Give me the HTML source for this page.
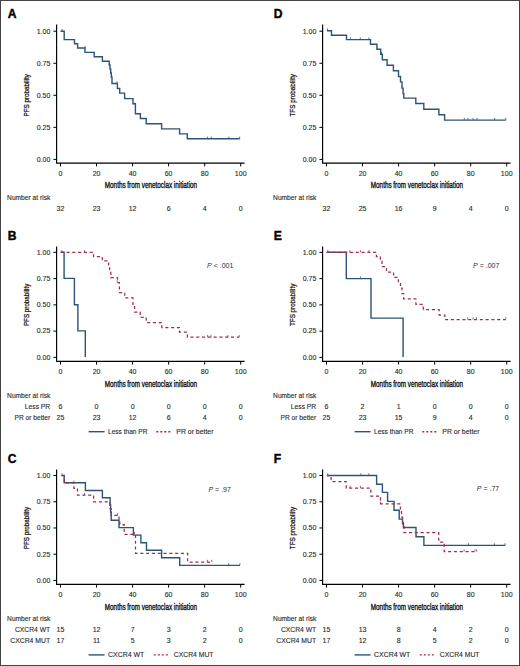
<!DOCTYPE html>
<html><head><meta charset="utf-8"><style>
html,body{margin:0;padding:0;background:#fff;width:520px;height:666px;overflow:hidden}
svg text{font-family:"Liberation Sans", sans-serif}
</style></head><body>
<svg width="520" height="666" viewBox="0 0 520 666" style="position:absolute;left:0;top:0">
<rect x="0.5" y="0.5" width="519" height="665" fill="#fff" stroke="#444" stroke-width="1"/>
<text x="7.70" y="17.80" font-size="12.1" text-anchor="start" font-weight="bold" fill="#000" stroke="#000" stroke-width="0.4">A</text>
<path d="M56.60,24.60 V163.10 H244.60" fill="none" stroke="#000" stroke-width="1.15"/>
<path d="M53.40,31.20 H56.60" stroke="#000" stroke-width="1"/>
<text x="50.30" y="33.50" font-size="7" text-anchor="end" font-weight="normal" fill="#2a2a2a" stroke="#2a2a2a" stroke-width="0.12" >1.00</text>
<path d="M53.40,63.25 H56.60" stroke="#000" stroke-width="1"/>
<text x="50.30" y="65.55" font-size="7" text-anchor="end" font-weight="normal" fill="#2a2a2a" stroke="#2a2a2a" stroke-width="0.12" >0.75</text>
<path d="M53.40,95.30 H56.60" stroke="#000" stroke-width="1"/>
<text x="50.30" y="97.60" font-size="7" text-anchor="end" font-weight="normal" fill="#2a2a2a" stroke="#2a2a2a" stroke-width="0.12" >0.50</text>
<path d="M53.40,127.35 H56.60" stroke="#000" stroke-width="1"/>
<text x="50.30" y="129.65" font-size="7" text-anchor="end" font-weight="normal" fill="#2a2a2a" stroke="#2a2a2a" stroke-width="0.12" >0.25</text>
<path d="M53.40,159.40 H56.60" stroke="#000" stroke-width="1"/>
<text x="50.30" y="161.70" font-size="7" text-anchor="end" font-weight="normal" fill="#2a2a2a" stroke="#2a2a2a" stroke-width="0.12" >0.00</text>
<path d="M60.50,163.10 V166.40" stroke="#000" stroke-width="1"/>
<text x="60.50" y="175.90" font-size="7" text-anchor="middle" font-weight="normal" fill="#2a2a2a" stroke="#2a2a2a" stroke-width="0.12" >0</text>
<path d="M96.54,163.10 V166.40" stroke="#000" stroke-width="1"/>
<text x="96.54" y="175.90" font-size="7" text-anchor="middle" font-weight="normal" fill="#2a2a2a" stroke="#2a2a2a" stroke-width="0.12" >20</text>
<path d="M132.58,163.10 V166.40" stroke="#000" stroke-width="1"/>
<text x="132.58" y="175.90" font-size="7" text-anchor="middle" font-weight="normal" fill="#2a2a2a" stroke="#2a2a2a" stroke-width="0.12" >40</text>
<path d="M168.62,163.10 V166.40" stroke="#000" stroke-width="1"/>
<text x="168.62" y="175.90" font-size="7" text-anchor="middle" font-weight="normal" fill="#2a2a2a" stroke="#2a2a2a" stroke-width="0.12" >60</text>
<path d="M204.66,163.10 V166.40" stroke="#000" stroke-width="1"/>
<text x="204.66" y="175.90" font-size="7" text-anchor="middle" font-weight="normal" fill="#2a2a2a" stroke="#2a2a2a" stroke-width="0.12" >80</text>
<path d="M240.70,163.10 V166.40" stroke="#000" stroke-width="1"/>
<text x="240.70" y="175.90" font-size="7" text-anchor="middle" font-weight="normal" fill="#2a2a2a" stroke="#2a2a2a" stroke-width="0.12" >100</text>
<text x="104.80" y="188.30" font-size="8.6" textLength="92.3" lengthAdjust="spacingAndGlyphs" fill="#111" stroke="#111" stroke-width="0.35">Months from venetoclax initiation</text>
<text transform="translate(29.40,116.50) rotate(-90)" x="0" y="0" font-size="7.3" textLength="42.4" lengthAdjust="spacingAndGlyphs" fill="#111" stroke="#111" stroke-width="0.25">PFS probability</text>
<text x="7.10" y="199.60" font-size="6.6" text-anchor="start" font-weight="normal" fill="#2a2a2a" stroke="#2a2a2a" stroke-width="0.12"  textLength="43.2" lengthAdjust="spacingAndGlyphs">Number at risk</text>
<text x="60.50" y="210.90" font-size="7" text-anchor="middle" font-weight="normal" fill="#2a2a2a" stroke="#2a2a2a" stroke-width="0.12" >32</text>
<text x="96.54" y="210.90" font-size="7" text-anchor="middle" font-weight="normal" fill="#2a2a2a" stroke="#2a2a2a" stroke-width="0.12" >23</text>
<text x="132.58" y="210.90" font-size="7" text-anchor="middle" font-weight="normal" fill="#2a2a2a" stroke="#2a2a2a" stroke-width="0.12" >12</text>
<text x="168.62" y="210.90" font-size="7" text-anchor="middle" font-weight="normal" fill="#2a2a2a" stroke="#2a2a2a" stroke-width="0.12" >6</text>
<text x="204.66" y="210.90" font-size="7" text-anchor="middle" font-weight="normal" fill="#2a2a2a" stroke="#2a2a2a" stroke-width="0.12" >4</text>
<text x="240.70" y="210.90" font-size="7" text-anchor="middle" font-weight="normal" fill="#2a2a2a" stroke="#2a2a2a" stroke-width="0.12" >0</text>
<path d="M60.5,31.2 H64.2 V39.6 H74.5 V43.8 H77.6 V48 H85 V52.4 H94.2 V56.8 H102.4 V61.2 H109.2 V65 H110 V69 H110.7 V73 H111.3 V77 H112 V83.5 H117.4 V88.5 H119.7 V93.1 H124.6 V98.6 H133 V103.8 H135.4 V113.7 H140.4 V118.5 H146.2 V123.8 H161.6 V128.9 H179.6 V133.9 H187.3 V138.8 H239.7" fill="none" stroke="#2c5378" stroke-width="1.4"/>
<path d="M62.00,31.20 v-2.2" stroke="#2c5378" stroke-width="0.8"/>
<path d="M85.00,48.00 v-2.2" stroke="#2c5378" stroke-width="0.8"/>
<path d="M117.00,83.50 v-2.2" stroke="#2c5378" stroke-width="0.8"/>
<path d="M207.40,138.80 v-2.2" stroke="#2c5378" stroke-width="0.8"/>
<path d="M211.20,138.80 v-2.2" stroke="#2c5378" stroke-width="0.8"/>
<path d="M228.90,138.80 v-2.2" stroke="#2c5378" stroke-width="0.8"/>
<path d="M239.70,138.80 v-2.2" stroke="#2c5378" stroke-width="0.8"/>
<text x="273.70" y="17.80" font-size="12.1" text-anchor="start" font-weight="bold" fill="#000" stroke="#000" stroke-width="0.4">D</text>
<path d="M322.60,24.60 V163.10 H510.60" fill="none" stroke="#000" stroke-width="1.15"/>
<path d="M319.40,31.20 H322.60" stroke="#000" stroke-width="1"/>
<text x="316.30" y="33.50" font-size="7" text-anchor="end" font-weight="normal" fill="#2a2a2a" stroke="#2a2a2a" stroke-width="0.12" >1.00</text>
<path d="M319.40,63.25 H322.60" stroke="#000" stroke-width="1"/>
<text x="316.30" y="65.55" font-size="7" text-anchor="end" font-weight="normal" fill="#2a2a2a" stroke="#2a2a2a" stroke-width="0.12" >0.75</text>
<path d="M319.40,95.30 H322.60" stroke="#000" stroke-width="1"/>
<text x="316.30" y="97.60" font-size="7" text-anchor="end" font-weight="normal" fill="#2a2a2a" stroke="#2a2a2a" stroke-width="0.12" >0.50</text>
<path d="M319.40,127.35 H322.60" stroke="#000" stroke-width="1"/>
<text x="316.30" y="129.65" font-size="7" text-anchor="end" font-weight="normal" fill="#2a2a2a" stroke="#2a2a2a" stroke-width="0.12" >0.25</text>
<path d="M319.40,159.40 H322.60" stroke="#000" stroke-width="1"/>
<text x="316.30" y="161.70" font-size="7" text-anchor="end" font-weight="normal" fill="#2a2a2a" stroke="#2a2a2a" stroke-width="0.12" >0.00</text>
<path d="M326.50,163.10 V166.40" stroke="#000" stroke-width="1"/>
<text x="326.50" y="175.90" font-size="7" text-anchor="middle" font-weight="normal" fill="#2a2a2a" stroke="#2a2a2a" stroke-width="0.12" >0</text>
<path d="M362.54,163.10 V166.40" stroke="#000" stroke-width="1"/>
<text x="362.54" y="175.90" font-size="7" text-anchor="middle" font-weight="normal" fill="#2a2a2a" stroke="#2a2a2a" stroke-width="0.12" >20</text>
<path d="M398.58,163.10 V166.40" stroke="#000" stroke-width="1"/>
<text x="398.58" y="175.90" font-size="7" text-anchor="middle" font-weight="normal" fill="#2a2a2a" stroke="#2a2a2a" stroke-width="0.12" >40</text>
<path d="M434.62,163.10 V166.40" stroke="#000" stroke-width="1"/>
<text x="434.62" y="175.90" font-size="7" text-anchor="middle" font-weight="normal" fill="#2a2a2a" stroke="#2a2a2a" stroke-width="0.12" >60</text>
<path d="M470.66,163.10 V166.40" stroke="#000" stroke-width="1"/>
<text x="470.66" y="175.90" font-size="7" text-anchor="middle" font-weight="normal" fill="#2a2a2a" stroke="#2a2a2a" stroke-width="0.12" >80</text>
<path d="M506.70,163.10 V166.40" stroke="#000" stroke-width="1"/>
<text x="506.70" y="175.90" font-size="7" text-anchor="middle" font-weight="normal" fill="#2a2a2a" stroke="#2a2a2a" stroke-width="0.12" >100</text>
<text x="370.80" y="188.30" font-size="8.6" textLength="92.3" lengthAdjust="spacingAndGlyphs" fill="#111" stroke="#111" stroke-width="0.35">Months from venetoclax initiation</text>
<text transform="translate(295.40,116.50) rotate(-90)" x="0" y="0" font-size="7.3" textLength="42.4" lengthAdjust="spacingAndGlyphs" fill="#111" stroke="#111" stroke-width="0.25">TFS probability</text>
<text x="273.10" y="199.60" font-size="6.6" text-anchor="start" font-weight="normal" fill="#2a2a2a" stroke="#2a2a2a" stroke-width="0.12"  textLength="43.2" lengthAdjust="spacingAndGlyphs">Number at risk</text>
<text x="326.50" y="210.90" font-size="7" text-anchor="middle" font-weight="normal" fill="#2a2a2a" stroke="#2a2a2a" stroke-width="0.12" >32</text>
<text x="362.54" y="210.90" font-size="7" text-anchor="middle" font-weight="normal" fill="#2a2a2a" stroke="#2a2a2a" stroke-width="0.12" >25</text>
<text x="398.58" y="210.90" font-size="7" text-anchor="middle" font-weight="normal" fill="#2a2a2a" stroke="#2a2a2a" stroke-width="0.12" >16</text>
<text x="434.62" y="210.90" font-size="7" text-anchor="middle" font-weight="normal" fill="#2a2a2a" stroke="#2a2a2a" stroke-width="0.12" >9</text>
<text x="470.66" y="210.90" font-size="7" text-anchor="middle" font-weight="normal" fill="#2a2a2a" stroke="#2a2a2a" stroke-width="0.12" >4</text>
<text x="506.70" y="210.90" font-size="7" text-anchor="middle" font-weight="normal" fill="#2a2a2a" stroke="#2a2a2a" stroke-width="0.12" >0</text>
<path d="M326.9,30.7 H331.5 V35.3 H346.5 V39.6 H370.5 V44.2 H376.9 V49.3 H380.7 V54.3 H382.3 V59.7 H387.1 V65.3 H393.4 V70.7 H398.5 V76.5 H400.5 V81.9 H402 V88.1 H403.1 V93.5 H403.8 V98.1 H415.8 V103.5 H423.8 V109.3 H438.9 V114.7 H444.6 V120.1 H505.8" fill="none" stroke="#2c5378" stroke-width="1.4"/>
<path d="M327.50,30.70 v-2.2" stroke="#2c5378" stroke-width="0.8"/>
<path d="M381.50,54.30 v-2.2" stroke="#2c5378" stroke-width="0.8"/>
<path d="M350.50,39.60 v-2.2" stroke="#2c5378" stroke-width="0.8"/>
<path d="M360.30,39.60 v-2.2" stroke="#2c5378" stroke-width="0.8"/>
<path d="M368.90,39.60 v-2.2" stroke="#2c5378" stroke-width="0.8"/>
<path d="M464.30,120.10 v-2.2" stroke="#2c5378" stroke-width="0.8"/>
<path d="M468.00,120.10 v-2.2" stroke="#2c5378" stroke-width="0.8"/>
<path d="M473.10,120.10 v-2.2" stroke="#2c5378" stroke-width="0.8"/>
<path d="M476.90,120.10 v-2.2" stroke="#2c5378" stroke-width="0.8"/>
<path d="M494.60,120.10 v-2.2" stroke="#2c5378" stroke-width="0.8"/>
<path d="M505.80,120.10 v-2.2" stroke="#2c5378" stroke-width="0.8"/>
<text x="7.70" y="240.00" font-size="12.1" text-anchor="start" font-weight="bold" fill="#000" stroke="#000" stroke-width="0.4">B</text>
<path d="M56.60,246.50 V361.30 H244.60" fill="none" stroke="#000" stroke-width="1.15"/>
<path d="M53.40,252.35 H56.60" stroke="#000" stroke-width="1"/>
<text x="50.30" y="254.65" font-size="7" text-anchor="end" font-weight="normal" fill="#2a2a2a" stroke="#2a2a2a" stroke-width="0.12" >1.00</text>
<path d="M53.40,278.61 H56.60" stroke="#000" stroke-width="1"/>
<text x="50.30" y="280.91" font-size="7" text-anchor="end" font-weight="normal" fill="#2a2a2a" stroke="#2a2a2a" stroke-width="0.12" >0.75</text>
<path d="M53.40,304.88 H56.60" stroke="#000" stroke-width="1"/>
<text x="50.30" y="307.18" font-size="7" text-anchor="end" font-weight="normal" fill="#2a2a2a" stroke="#2a2a2a" stroke-width="0.12" >0.50</text>
<path d="M53.40,331.14 H56.60" stroke="#000" stroke-width="1"/>
<text x="50.30" y="333.44" font-size="7" text-anchor="end" font-weight="normal" fill="#2a2a2a" stroke="#2a2a2a" stroke-width="0.12" >0.25</text>
<path d="M53.40,357.40 H56.60" stroke="#000" stroke-width="1"/>
<text x="50.30" y="359.70" font-size="7" text-anchor="end" font-weight="normal" fill="#2a2a2a" stroke="#2a2a2a" stroke-width="0.12" >0.00</text>
<path d="M60.50,361.30 V364.60" stroke="#000" stroke-width="1"/>
<text x="60.50" y="374.10" font-size="7" text-anchor="middle" font-weight="normal" fill="#2a2a2a" stroke="#2a2a2a" stroke-width="0.12" >0</text>
<path d="M96.54,361.30 V364.60" stroke="#000" stroke-width="1"/>
<text x="96.54" y="374.10" font-size="7" text-anchor="middle" font-weight="normal" fill="#2a2a2a" stroke="#2a2a2a" stroke-width="0.12" >20</text>
<path d="M132.58,361.30 V364.60" stroke="#000" stroke-width="1"/>
<text x="132.58" y="374.10" font-size="7" text-anchor="middle" font-weight="normal" fill="#2a2a2a" stroke="#2a2a2a" stroke-width="0.12" >40</text>
<path d="M168.62,361.30 V364.60" stroke="#000" stroke-width="1"/>
<text x="168.62" y="374.10" font-size="7" text-anchor="middle" font-weight="normal" fill="#2a2a2a" stroke="#2a2a2a" stroke-width="0.12" >60</text>
<path d="M204.66,361.30 V364.60" stroke="#000" stroke-width="1"/>
<text x="204.66" y="374.10" font-size="7" text-anchor="middle" font-weight="normal" fill="#2a2a2a" stroke="#2a2a2a" stroke-width="0.12" >80</text>
<path d="M240.70,361.30 V364.60" stroke="#000" stroke-width="1"/>
<text x="240.70" y="374.10" font-size="7" text-anchor="middle" font-weight="normal" fill="#2a2a2a" stroke="#2a2a2a" stroke-width="0.12" >100</text>
<text x="104.80" y="386.50" font-size="8.6" textLength="92.3" lengthAdjust="spacingAndGlyphs" fill="#111" stroke="#111" stroke-width="0.35">Months from venetoclax initiation</text>
<text transform="translate(29.40,326.07) rotate(-90)" x="0" y="0" font-size="7.3" textLength="42.4" lengthAdjust="spacingAndGlyphs" fill="#111" stroke="#111" stroke-width="0.25">PFS probability</text>
<text x="7.10" y="397.80" font-size="6.6" text-anchor="start" font-weight="normal" fill="#2a2a2a" stroke="#2a2a2a" stroke-width="0.12"  textLength="43.2" lengthAdjust="spacingAndGlyphs">Number at risk</text>
<text x="50.20" y="409.10" font-size="7" text-anchor="end" font-weight="normal" fill="#2a2a2a" stroke="#2a2a2a" stroke-width="0.12"  textLength="25.4" lengthAdjust="spacingAndGlyphs">Less PR</text>
<text x="60.50" y="409.10" font-size="7" text-anchor="middle" font-weight="normal" fill="#2a2a2a" stroke="#2a2a2a" stroke-width="0.12" >6</text>
<text x="96.54" y="409.10" font-size="7" text-anchor="middle" font-weight="normal" fill="#2a2a2a" stroke="#2a2a2a" stroke-width="0.12" >0</text>
<text x="132.58" y="409.10" font-size="7" text-anchor="middle" font-weight="normal" fill="#2a2a2a" stroke="#2a2a2a" stroke-width="0.12" >0</text>
<text x="168.62" y="409.10" font-size="7" text-anchor="middle" font-weight="normal" fill="#2a2a2a" stroke="#2a2a2a" stroke-width="0.12" >0</text>
<text x="204.66" y="409.10" font-size="7" text-anchor="middle" font-weight="normal" fill="#2a2a2a" stroke="#2a2a2a" stroke-width="0.12" >0</text>
<text x="240.70" y="409.10" font-size="7" text-anchor="middle" font-weight="normal" fill="#2a2a2a" stroke="#2a2a2a" stroke-width="0.12" >0</text>
<text x="50.20" y="419.70" font-size="7" text-anchor="end" font-weight="normal" fill="#2a2a2a" stroke="#2a2a2a" stroke-width="0.12"  textLength="35.6" lengthAdjust="spacingAndGlyphs">PR or better</text>
<text x="60.50" y="419.70" font-size="7" text-anchor="middle" font-weight="normal" fill="#2a2a2a" stroke="#2a2a2a" stroke-width="0.12" >25</text>
<text x="96.54" y="419.70" font-size="7" text-anchor="middle" font-weight="normal" fill="#2a2a2a" stroke="#2a2a2a" stroke-width="0.12" >23</text>
<text x="132.58" y="419.70" font-size="7" text-anchor="middle" font-weight="normal" fill="#2a2a2a" stroke="#2a2a2a" stroke-width="0.12" >12</text>
<text x="168.62" y="419.70" font-size="7" text-anchor="middle" font-weight="normal" fill="#2a2a2a" stroke="#2a2a2a" stroke-width="0.12" >6</text>
<text x="204.66" y="419.70" font-size="7" text-anchor="middle" font-weight="normal" fill="#2a2a2a" stroke="#2a2a2a" stroke-width="0.12" >4</text>
<text x="240.70" y="419.70" font-size="7" text-anchor="middle" font-weight="normal" fill="#2a2a2a" stroke="#2a2a2a" stroke-width="0.12" >0</text>
<text x="207.10" y="267.50" font-size="7" fill="#2a2a2a"><tspan font-style="italic">P</tspan> &lt; .001</text>
<path d="M88.60,431.70 H104.60" stroke="#2c5378" stroke-width="1.4"/>
<text x="108.00" y="434.00" font-size="7" text-anchor="start" font-weight="normal" fill="#2a2a2a" stroke="#2a2a2a" stroke-width="0.12"  textLength="39.4" lengthAdjust="spacingAndGlyphs">Less than PR</text>
<path d="M156.30,431.70 H172.30" stroke="#a02c4c" stroke-width="1.4" stroke-dasharray="2 2"/>
<text x="176.30" y="434.00" font-size="7" text-anchor="start" font-weight="normal" fill="#2a2a2a" stroke="#2a2a2a" stroke-width="0.12"  textLength="37.2" lengthAdjust="spacingAndGlyphs">PR or better</text>
<path d="M60.7,252.3 H64.1 V278.4 H74.4 V304.8 H77.9 V330.9 H85.3 V357.1" fill="none" stroke="#2c5378" stroke-width="1.4"/>
<path d="M61.80,252.30 v-2.2" stroke="#2c5378" stroke-width="0.8"/>
<path d="M60.7,252.3 H93.5 V256.7 H102.3 V260.9 H108.6 V266 H109.6 V272 H110.8 V277.7 H117.5 V282.5 H119.4 V292.6 H124.7 V297.9 H132.9 V305 H134.6 V312.1 H140.2 V317.3 H146.2 V322.5 H161.8 V327.5 H179.4 V332.2 H187.4 V337.2 H239.2" fill="none" stroke="#a02c4c" stroke-width="1.25" stroke-dasharray="3.1 2.7"/>
<path d="M84.60,252.30 v-2.2" stroke="#a02c4c" stroke-width="0.8"/>
<path d="M117.20,282.50 v-2.2" stroke="#a02c4c" stroke-width="0.8"/>
<path d="M207.60,337.20 v-2.2" stroke="#a02c4c" stroke-width="0.8"/>
<path d="M211.00,337.20 v-2.2" stroke="#a02c4c" stroke-width="0.8"/>
<path d="M227.80,337.20 v-2.2" stroke="#a02c4c" stroke-width="0.8"/>
<path d="M239.20,337.20 v-2.2" stroke="#a02c4c" stroke-width="0.8"/>
<text x="273.70" y="240.00" font-size="12.1" text-anchor="start" font-weight="bold" fill="#000" stroke="#000" stroke-width="0.4">E</text>
<path d="M322.60,246.50 V361.30 H510.60" fill="none" stroke="#000" stroke-width="1.15"/>
<path d="M319.40,252.35 H322.60" stroke="#000" stroke-width="1"/>
<text x="316.30" y="254.65" font-size="7" text-anchor="end" font-weight="normal" fill="#2a2a2a" stroke="#2a2a2a" stroke-width="0.12" >1.00</text>
<path d="M319.40,278.61 H322.60" stroke="#000" stroke-width="1"/>
<text x="316.30" y="280.91" font-size="7" text-anchor="end" font-weight="normal" fill="#2a2a2a" stroke="#2a2a2a" stroke-width="0.12" >0.75</text>
<path d="M319.40,304.88 H322.60" stroke="#000" stroke-width="1"/>
<text x="316.30" y="307.18" font-size="7" text-anchor="end" font-weight="normal" fill="#2a2a2a" stroke="#2a2a2a" stroke-width="0.12" >0.50</text>
<path d="M319.40,331.14 H322.60" stroke="#000" stroke-width="1"/>
<text x="316.30" y="333.44" font-size="7" text-anchor="end" font-weight="normal" fill="#2a2a2a" stroke="#2a2a2a" stroke-width="0.12" >0.25</text>
<path d="M319.40,357.40 H322.60" stroke="#000" stroke-width="1"/>
<text x="316.30" y="359.70" font-size="7" text-anchor="end" font-weight="normal" fill="#2a2a2a" stroke="#2a2a2a" stroke-width="0.12" >0.00</text>
<path d="M326.50,361.30 V364.60" stroke="#000" stroke-width="1"/>
<text x="326.50" y="374.10" font-size="7" text-anchor="middle" font-weight="normal" fill="#2a2a2a" stroke="#2a2a2a" stroke-width="0.12" >0</text>
<path d="M362.54,361.30 V364.60" stroke="#000" stroke-width="1"/>
<text x="362.54" y="374.10" font-size="7" text-anchor="middle" font-weight="normal" fill="#2a2a2a" stroke="#2a2a2a" stroke-width="0.12" >20</text>
<path d="M398.58,361.30 V364.60" stroke="#000" stroke-width="1"/>
<text x="398.58" y="374.10" font-size="7" text-anchor="middle" font-weight="normal" fill="#2a2a2a" stroke="#2a2a2a" stroke-width="0.12" >40</text>
<path d="M434.62,361.30 V364.60" stroke="#000" stroke-width="1"/>
<text x="434.62" y="374.10" font-size="7" text-anchor="middle" font-weight="normal" fill="#2a2a2a" stroke="#2a2a2a" stroke-width="0.12" >60</text>
<path d="M470.66,361.30 V364.60" stroke="#000" stroke-width="1"/>
<text x="470.66" y="374.10" font-size="7" text-anchor="middle" font-weight="normal" fill="#2a2a2a" stroke="#2a2a2a" stroke-width="0.12" >80</text>
<path d="M506.70,361.30 V364.60" stroke="#000" stroke-width="1"/>
<text x="506.70" y="374.10" font-size="7" text-anchor="middle" font-weight="normal" fill="#2a2a2a" stroke="#2a2a2a" stroke-width="0.12" >100</text>
<text x="370.80" y="386.50" font-size="8.6" textLength="92.3" lengthAdjust="spacingAndGlyphs" fill="#111" stroke="#111" stroke-width="0.35">Months from venetoclax initiation</text>
<text transform="translate(295.40,326.07) rotate(-90)" x="0" y="0" font-size="7.3" textLength="42.4" lengthAdjust="spacingAndGlyphs" fill="#111" stroke="#111" stroke-width="0.25">TFS probability</text>
<text x="273.10" y="397.80" font-size="6.6" text-anchor="start" font-weight="normal" fill="#2a2a2a" stroke="#2a2a2a" stroke-width="0.12"  textLength="43.2" lengthAdjust="spacingAndGlyphs">Number at risk</text>
<text x="316.20" y="409.10" font-size="7" text-anchor="end" font-weight="normal" fill="#2a2a2a" stroke="#2a2a2a" stroke-width="0.12"  textLength="25.4" lengthAdjust="spacingAndGlyphs">Less PR</text>
<text x="326.50" y="409.10" font-size="7" text-anchor="middle" font-weight="normal" fill="#2a2a2a" stroke="#2a2a2a" stroke-width="0.12" >6</text>
<text x="362.54" y="409.10" font-size="7" text-anchor="middle" font-weight="normal" fill="#2a2a2a" stroke="#2a2a2a" stroke-width="0.12" >2</text>
<text x="398.58" y="409.10" font-size="7" text-anchor="middle" font-weight="normal" fill="#2a2a2a" stroke="#2a2a2a" stroke-width="0.12" >1</text>
<text x="434.62" y="409.10" font-size="7" text-anchor="middle" font-weight="normal" fill="#2a2a2a" stroke="#2a2a2a" stroke-width="0.12" >0</text>
<text x="470.66" y="409.10" font-size="7" text-anchor="middle" font-weight="normal" fill="#2a2a2a" stroke="#2a2a2a" stroke-width="0.12" >0</text>
<text x="506.70" y="409.10" font-size="7" text-anchor="middle" font-weight="normal" fill="#2a2a2a" stroke="#2a2a2a" stroke-width="0.12" >0</text>
<text x="316.20" y="419.70" font-size="7" text-anchor="end" font-weight="normal" fill="#2a2a2a" stroke="#2a2a2a" stroke-width="0.12"  textLength="35.6" lengthAdjust="spacingAndGlyphs">PR or better</text>
<text x="326.50" y="419.70" font-size="7" text-anchor="middle" font-weight="normal" fill="#2a2a2a" stroke="#2a2a2a" stroke-width="0.12" >25</text>
<text x="362.54" y="419.70" font-size="7" text-anchor="middle" font-weight="normal" fill="#2a2a2a" stroke="#2a2a2a" stroke-width="0.12" >23</text>
<text x="398.58" y="419.70" font-size="7" text-anchor="middle" font-weight="normal" fill="#2a2a2a" stroke="#2a2a2a" stroke-width="0.12" >15</text>
<text x="434.62" y="419.70" font-size="7" text-anchor="middle" font-weight="normal" fill="#2a2a2a" stroke="#2a2a2a" stroke-width="0.12" >9</text>
<text x="470.66" y="419.70" font-size="7" text-anchor="middle" font-weight="normal" fill="#2a2a2a" stroke="#2a2a2a" stroke-width="0.12" >4</text>
<text x="506.70" y="419.70" font-size="7" text-anchor="middle" font-weight="normal" fill="#2a2a2a" stroke="#2a2a2a" stroke-width="0.12" >0</text>
<text x="473.10" y="267.50" font-size="7" fill="#2a2a2a"><tspan font-style="italic">P</tspan> = .007</text>
<path d="M354.60,431.70 H370.60" stroke="#2c5378" stroke-width="1.4"/>
<text x="374.00" y="434.00" font-size="7" text-anchor="start" font-weight="normal" fill="#2a2a2a" stroke="#2a2a2a" stroke-width="0.12"  textLength="39.4" lengthAdjust="spacingAndGlyphs">Less than PR</text>
<path d="M422.30,431.70 H438.30" stroke="#a02c4c" stroke-width="1.4" stroke-dasharray="2 2"/>
<text x="442.30" y="434.00" font-size="7" text-anchor="start" font-weight="normal" fill="#2a2a2a" stroke="#2a2a2a" stroke-width="0.12"  textLength="37.2" lengthAdjust="spacingAndGlyphs">PR or better</text>
<path d="M326.7,252.3 H346.3 V278.6 H371 V318.1 H403.1 V356.9" fill="none" stroke="#2c5378" stroke-width="1.4"/>
<path d="M327.80,252.30 v-2.2" stroke="#2c5378" stroke-width="0.8"/>
<path d="M360.40,278.60 v-2.2" stroke="#2c5378" stroke-width="0.8"/>
<path d="M326.7,252.3 H376.4 V256.6 H380.4 V261 H382 V266.5 H386.5 V272.2 H393.6 V277.4 H398.4 V282.8 H400.5 V288.2 H402 V293.6 H403.6 V298.9 H415.9 V304.4 H423.3 V309.5 H439.1 V315 H444.8 V319.6 H505.7" fill="none" stroke="#a02c4c" stroke-width="1.25" stroke-dasharray="3.1 2.7"/>
<path d="M349.80,252.30 v-2.2" stroke="#a02c4c" stroke-width="0.8"/>
<path d="M360.40,252.30 v-2.2" stroke="#a02c4c" stroke-width="0.8"/>
<path d="M369.00,252.30 v-2.2" stroke="#a02c4c" stroke-width="0.8"/>
<path d="M467.70,319.60 v-2.2" stroke="#a02c4c" stroke-width="0.8"/>
<path d="M473.00,319.60 v-2.2" stroke="#a02c4c" stroke-width="0.8"/>
<path d="M476.50,319.60 v-2.2" stroke="#a02c4c" stroke-width="0.8"/>
<path d="M505.70,319.60 v-2.2" stroke="#a02c4c" stroke-width="0.8"/>
<text x="7.70" y="463.20" font-size="12.1" text-anchor="start" font-weight="bold" fill="#000" stroke="#000" stroke-width="0.4">C</text>
<path d="M56.60,469.50 V584.30 H244.60" fill="none" stroke="#000" stroke-width="1.15"/>
<path d="M53.40,475.50 H56.60" stroke="#000" stroke-width="1"/>
<text x="50.30" y="477.80" font-size="7" text-anchor="end" font-weight="normal" fill="#2a2a2a" stroke="#2a2a2a" stroke-width="0.12" >1.00</text>
<path d="M53.40,501.74 H56.60" stroke="#000" stroke-width="1"/>
<text x="50.30" y="504.04" font-size="7" text-anchor="end" font-weight="normal" fill="#2a2a2a" stroke="#2a2a2a" stroke-width="0.12" >0.75</text>
<path d="M53.40,527.98 H56.60" stroke="#000" stroke-width="1"/>
<text x="50.30" y="530.27" font-size="7" text-anchor="end" font-weight="normal" fill="#2a2a2a" stroke="#2a2a2a" stroke-width="0.12" >0.50</text>
<path d="M53.40,554.21 H56.60" stroke="#000" stroke-width="1"/>
<text x="50.30" y="556.51" font-size="7" text-anchor="end" font-weight="normal" fill="#2a2a2a" stroke="#2a2a2a" stroke-width="0.12" >0.25</text>
<path d="M53.40,580.45 H56.60" stroke="#000" stroke-width="1"/>
<text x="50.30" y="582.75" font-size="7" text-anchor="end" font-weight="normal" fill="#2a2a2a" stroke="#2a2a2a" stroke-width="0.12" >0.00</text>
<path d="M60.50,584.30 V587.60" stroke="#000" stroke-width="1"/>
<text x="60.50" y="597.10" font-size="7" text-anchor="middle" font-weight="normal" fill="#2a2a2a" stroke="#2a2a2a" stroke-width="0.12" >0</text>
<path d="M96.54,584.30 V587.60" stroke="#000" stroke-width="1"/>
<text x="96.54" y="597.10" font-size="7" text-anchor="middle" font-weight="normal" fill="#2a2a2a" stroke="#2a2a2a" stroke-width="0.12" >20</text>
<path d="M132.58,584.30 V587.60" stroke="#000" stroke-width="1"/>
<text x="132.58" y="597.10" font-size="7" text-anchor="middle" font-weight="normal" fill="#2a2a2a" stroke="#2a2a2a" stroke-width="0.12" >40</text>
<path d="M168.62,584.30 V587.60" stroke="#000" stroke-width="1"/>
<text x="168.62" y="597.10" font-size="7" text-anchor="middle" font-weight="normal" fill="#2a2a2a" stroke="#2a2a2a" stroke-width="0.12" >60</text>
<path d="M204.66,584.30 V587.60" stroke="#000" stroke-width="1"/>
<text x="204.66" y="597.10" font-size="7" text-anchor="middle" font-weight="normal" fill="#2a2a2a" stroke="#2a2a2a" stroke-width="0.12" >80</text>
<path d="M240.70,584.30 V587.60" stroke="#000" stroke-width="1"/>
<text x="240.70" y="597.10" font-size="7" text-anchor="middle" font-weight="normal" fill="#2a2a2a" stroke="#2a2a2a" stroke-width="0.12" >100</text>
<text x="104.80" y="609.50" font-size="8.6" textLength="92.3" lengthAdjust="spacingAndGlyphs" fill="#111" stroke="#111" stroke-width="0.35">Months from venetoclax initiation</text>
<text transform="translate(29.40,549.18) rotate(-90)" x="0" y="0" font-size="7.3" textLength="42.4" lengthAdjust="spacingAndGlyphs" fill="#111" stroke="#111" stroke-width="0.25">PFS probability</text>
<text x="7.10" y="620.80" font-size="6.6" text-anchor="start" font-weight="normal" fill="#2a2a2a" stroke="#2a2a2a" stroke-width="0.12"  textLength="43.2" lengthAdjust="spacingAndGlyphs">Number at risk</text>
<text x="50.20" y="632.10" font-size="7" text-anchor="end" font-weight="normal" fill="#2a2a2a" stroke="#2a2a2a" stroke-width="0.12"  textLength="35.3" lengthAdjust="spacingAndGlyphs">CXCR4 WT</text>
<text x="60.50" y="632.10" font-size="7" text-anchor="middle" font-weight="normal" fill="#2a2a2a" stroke="#2a2a2a" stroke-width="0.12" >15</text>
<text x="96.54" y="632.10" font-size="7" text-anchor="middle" font-weight="normal" fill="#2a2a2a" stroke="#2a2a2a" stroke-width="0.12" >12</text>
<text x="132.58" y="632.10" font-size="7" text-anchor="middle" font-weight="normal" fill="#2a2a2a" stroke="#2a2a2a" stroke-width="0.12" >7</text>
<text x="168.62" y="632.10" font-size="7" text-anchor="middle" font-weight="normal" fill="#2a2a2a" stroke="#2a2a2a" stroke-width="0.12" >3</text>
<text x="204.66" y="632.10" font-size="7" text-anchor="middle" font-weight="normal" fill="#2a2a2a" stroke="#2a2a2a" stroke-width="0.12" >2</text>
<text x="240.70" y="632.10" font-size="7" text-anchor="middle" font-weight="normal" fill="#2a2a2a" stroke="#2a2a2a" stroke-width="0.12" >0</text>
<text x="50.20" y="642.70" font-size="7" text-anchor="end" font-weight="normal" fill="#2a2a2a" stroke="#2a2a2a" stroke-width="0.12"  textLength="40.0" lengthAdjust="spacingAndGlyphs">CXCR4 MUT</text>
<text x="60.50" y="642.70" font-size="7" text-anchor="middle" font-weight="normal" fill="#2a2a2a" stroke="#2a2a2a" stroke-width="0.12" >17</text>
<text x="96.54" y="642.70" font-size="7" text-anchor="middle" font-weight="normal" fill="#2a2a2a" stroke="#2a2a2a" stroke-width="0.12" >11</text>
<text x="132.58" y="642.70" font-size="7" text-anchor="middle" font-weight="normal" fill="#2a2a2a" stroke="#2a2a2a" stroke-width="0.12" >5</text>
<text x="168.62" y="642.70" font-size="7" text-anchor="middle" font-weight="normal" fill="#2a2a2a" stroke="#2a2a2a" stroke-width="0.12" >3</text>
<text x="204.66" y="642.70" font-size="7" text-anchor="middle" font-weight="normal" fill="#2a2a2a" stroke="#2a2a2a" stroke-width="0.12" >2</text>
<text x="240.70" y="642.70" font-size="7" text-anchor="middle" font-weight="normal" fill="#2a2a2a" stroke="#2a2a2a" stroke-width="0.12" >0</text>
<text x="208.50" y="491.90" font-size="7" fill="#2a2a2a"><tspan font-style="italic">P</tspan> = .97</text>
<path d="M88.60,654.90 H104.60" stroke="#2c5378" stroke-width="1.4"/>
<text x="108.00" y="657.20" font-size="7" text-anchor="start" font-weight="normal" fill="#2a2a2a" stroke="#2a2a2a" stroke-width="0.12"  textLength="36.3" lengthAdjust="spacingAndGlyphs">CXCR4 WT</text>
<path d="M153.80,654.90 H169.80" stroke="#a02c4c" stroke-width="1.4" stroke-dasharray="2 2"/>
<text x="173.80" y="657.20" font-size="7" text-anchor="start" font-weight="normal" fill="#2a2a2a" stroke="#2a2a2a" stroke-width="0.12"  textLength="39.7" lengthAdjust="spacingAndGlyphs">CXCR4 MUT</text>
<path d="M61.5,475.5 H64.2 V482.8 H85.4 V490.5 H102.4 V497.8 H110.1 V505 H110.6 V512 H111.2 V520.2 H119 V527.6 H133.4 V535.1 H140.9 V542.8 H146.5 V550.3 H161.6 V557.7 H179.7 V565.4 H239.9" fill="none" stroke="#2c5378" stroke-width="1.4"/>
<path d="M62.20,475.50 v-2.2" stroke="#2c5378" stroke-width="0.8"/>
<path d="M228.70,565.40 v-2.2" stroke="#2c5378" stroke-width="0.8"/>
<path d="M239.90,565.40 v-2.2" stroke="#2c5378" stroke-width="0.8"/>
<path d="M61.5,475.5 H64.2 V482.8 H73.9 V488.3 H77.5 V495.2 H93.6 V501.9 H109.8 V508.5 H111.2 V515.4 H119 V520 H119.8 V524.6 H124.2 V534.3 H135.5 V553.3 H187.6 V562 H211.8" fill="none" stroke="#a02c4c" stroke-width="1.25" stroke-dasharray="3.1 2.7"/>
<path d="M73.90,482.80 v-2.2" stroke="#a02c4c" stroke-width="0.8"/>
<path d="M84.50,495.20 v-2.2" stroke="#a02c4c" stroke-width="0.8"/>
<path d="M117.50,515.40 v-2.2" stroke="#a02c4c" stroke-width="0.8"/>
<path d="M134.40,534.30 v-2.2" stroke="#a02c4c" stroke-width="0.8"/>
<path d="M207.30,562.00 v-2.2" stroke="#a02c4c" stroke-width="0.8"/>
<path d="M211.80,562.00 v-2.2" stroke="#a02c4c" stroke-width="0.8"/>
<text x="273.70" y="463.20" font-size="12.1" text-anchor="start" font-weight="bold" fill="#000" stroke="#000" stroke-width="0.4">F</text>
<path d="M322.60,469.50 V584.30 H510.60" fill="none" stroke="#000" stroke-width="1.15"/>
<path d="M319.40,475.50 H322.60" stroke="#000" stroke-width="1"/>
<text x="316.30" y="477.80" font-size="7" text-anchor="end" font-weight="normal" fill="#2a2a2a" stroke="#2a2a2a" stroke-width="0.12" >1.00</text>
<path d="M319.40,501.74 H322.60" stroke="#000" stroke-width="1"/>
<text x="316.30" y="504.04" font-size="7" text-anchor="end" font-weight="normal" fill="#2a2a2a" stroke="#2a2a2a" stroke-width="0.12" >0.75</text>
<path d="M319.40,527.98 H322.60" stroke="#000" stroke-width="1"/>
<text x="316.30" y="530.27" font-size="7" text-anchor="end" font-weight="normal" fill="#2a2a2a" stroke="#2a2a2a" stroke-width="0.12" >0.50</text>
<path d="M319.40,554.21 H322.60" stroke="#000" stroke-width="1"/>
<text x="316.30" y="556.51" font-size="7" text-anchor="end" font-weight="normal" fill="#2a2a2a" stroke="#2a2a2a" stroke-width="0.12" >0.25</text>
<path d="M319.40,580.45 H322.60" stroke="#000" stroke-width="1"/>
<text x="316.30" y="582.75" font-size="7" text-anchor="end" font-weight="normal" fill="#2a2a2a" stroke="#2a2a2a" stroke-width="0.12" >0.00</text>
<path d="M326.50,584.30 V587.60" stroke="#000" stroke-width="1"/>
<text x="326.50" y="597.10" font-size="7" text-anchor="middle" font-weight="normal" fill="#2a2a2a" stroke="#2a2a2a" stroke-width="0.12" >0</text>
<path d="M362.54,584.30 V587.60" stroke="#000" stroke-width="1"/>
<text x="362.54" y="597.10" font-size="7" text-anchor="middle" font-weight="normal" fill="#2a2a2a" stroke="#2a2a2a" stroke-width="0.12" >20</text>
<path d="M398.58,584.30 V587.60" stroke="#000" stroke-width="1"/>
<text x="398.58" y="597.10" font-size="7" text-anchor="middle" font-weight="normal" fill="#2a2a2a" stroke="#2a2a2a" stroke-width="0.12" >40</text>
<path d="M434.62,584.30 V587.60" stroke="#000" stroke-width="1"/>
<text x="434.62" y="597.10" font-size="7" text-anchor="middle" font-weight="normal" fill="#2a2a2a" stroke="#2a2a2a" stroke-width="0.12" >60</text>
<path d="M470.66,584.30 V587.60" stroke="#000" stroke-width="1"/>
<text x="470.66" y="597.10" font-size="7" text-anchor="middle" font-weight="normal" fill="#2a2a2a" stroke="#2a2a2a" stroke-width="0.12" >80</text>
<path d="M506.70,584.30 V587.60" stroke="#000" stroke-width="1"/>
<text x="506.70" y="597.10" font-size="7" text-anchor="middle" font-weight="normal" fill="#2a2a2a" stroke="#2a2a2a" stroke-width="0.12" >100</text>
<text x="370.80" y="609.50" font-size="8.6" textLength="92.3" lengthAdjust="spacingAndGlyphs" fill="#111" stroke="#111" stroke-width="0.35">Months from venetoclax initiation</text>
<text transform="translate(295.40,549.18) rotate(-90)" x="0" y="0" font-size="7.3" textLength="42.4" lengthAdjust="spacingAndGlyphs" fill="#111" stroke="#111" stroke-width="0.25">TFS probability</text>
<text x="273.10" y="620.80" font-size="6.6" text-anchor="start" font-weight="normal" fill="#2a2a2a" stroke="#2a2a2a" stroke-width="0.12"  textLength="43.2" lengthAdjust="spacingAndGlyphs">Number at risk</text>
<text x="316.20" y="632.10" font-size="7" text-anchor="end" font-weight="normal" fill="#2a2a2a" stroke="#2a2a2a" stroke-width="0.12"  textLength="35.3" lengthAdjust="spacingAndGlyphs">CXCR4 WT</text>
<text x="326.50" y="632.10" font-size="7" text-anchor="middle" font-weight="normal" fill="#2a2a2a" stroke="#2a2a2a" stroke-width="0.12" >15</text>
<text x="362.54" y="632.10" font-size="7" text-anchor="middle" font-weight="normal" fill="#2a2a2a" stroke="#2a2a2a" stroke-width="0.12" >13</text>
<text x="398.58" y="632.10" font-size="7" text-anchor="middle" font-weight="normal" fill="#2a2a2a" stroke="#2a2a2a" stroke-width="0.12" >8</text>
<text x="434.62" y="632.10" font-size="7" text-anchor="middle" font-weight="normal" fill="#2a2a2a" stroke="#2a2a2a" stroke-width="0.12" >4</text>
<text x="470.66" y="632.10" font-size="7" text-anchor="middle" font-weight="normal" fill="#2a2a2a" stroke="#2a2a2a" stroke-width="0.12" >2</text>
<text x="506.70" y="632.10" font-size="7" text-anchor="middle" font-weight="normal" fill="#2a2a2a" stroke="#2a2a2a" stroke-width="0.12" >0</text>
<text x="316.20" y="642.70" font-size="7" text-anchor="end" font-weight="normal" fill="#2a2a2a" stroke="#2a2a2a" stroke-width="0.12"  textLength="40.0" lengthAdjust="spacingAndGlyphs">CXCR4 MUT</text>
<text x="326.50" y="642.70" font-size="7" text-anchor="middle" font-weight="normal" fill="#2a2a2a" stroke="#2a2a2a" stroke-width="0.12" >17</text>
<text x="362.54" y="642.70" font-size="7" text-anchor="middle" font-weight="normal" fill="#2a2a2a" stroke="#2a2a2a" stroke-width="0.12" >12</text>
<text x="398.58" y="642.70" font-size="7" text-anchor="middle" font-weight="normal" fill="#2a2a2a" stroke="#2a2a2a" stroke-width="0.12" >8</text>
<text x="434.62" y="642.70" font-size="7" text-anchor="middle" font-weight="normal" fill="#2a2a2a" stroke="#2a2a2a" stroke-width="0.12" >5</text>
<text x="470.66" y="642.70" font-size="7" text-anchor="middle" font-weight="normal" fill="#2a2a2a" stroke="#2a2a2a" stroke-width="0.12" >2</text>
<text x="506.70" y="642.70" font-size="7" text-anchor="middle" font-weight="normal" fill="#2a2a2a" stroke="#2a2a2a" stroke-width="0.12" >0</text>
<text x="476.80" y="490.70" font-size="7" fill="#2a2a2a"><tspan font-style="italic">P</tspan> = .77</text>
<path d="M354.60,654.90 H370.60" stroke="#2c5378" stroke-width="1.4"/>
<text x="374.00" y="657.20" font-size="7" text-anchor="start" font-weight="normal" fill="#2a2a2a" stroke="#2a2a2a" stroke-width="0.12"  textLength="36.3" lengthAdjust="spacingAndGlyphs">CXCR4 WT</text>
<path d="M419.80,654.90 H435.80" stroke="#a02c4c" stroke-width="1.4" stroke-dasharray="2 2"/>
<text x="439.80" y="657.20" font-size="7" text-anchor="start" font-weight="normal" fill="#2a2a2a" stroke="#2a2a2a" stroke-width="0.12"  textLength="39.7" lengthAdjust="spacingAndGlyphs">CXCR4 MUT</text>
<path d="M326.9,475.5 H376.6 V484.2 H382.4 V492.4 H387.6 V501.4 H394 V510.2 H399.2 V519.1 H402.5 V523 H403.4 V527.5 H416 V536.8 H423.9 V545.4 H505.1" fill="none" stroke="#2c5378" stroke-width="1.4"/>
<path d="M327.80,475.50 v-2.2" stroke="#2c5378" stroke-width="0.8"/>
<path d="M360.80,475.50 v-2.2" stroke="#2c5378" stroke-width="0.8"/>
<path d="M368.90,475.50 v-2.2" stroke="#2c5378" stroke-width="0.8"/>
<path d="M468.40,545.40 v-2.2" stroke="#2c5378" stroke-width="0.8"/>
<path d="M494.40,545.40 v-2.2" stroke="#2c5378" stroke-width="0.8"/>
<path d="M505.10,545.40 v-2.2" stroke="#2c5378" stroke-width="0.8"/>
<path d="M326.9,475.5 H331.1 V481.5 H346.2 V488 H370.8 V496 H380.5 V503.8 H400.4 V510 H401.5 V517 H402.7 V524 H404 V532.6 H438.7 V542.1 H444.2 V551.5 H476.7" fill="none" stroke="#a02c4c" stroke-width="1.25" stroke-dasharray="3.1 2.7"/>
<path d="M350.10,488.00 v-2.2" stroke="#a02c4c" stroke-width="0.8"/>
<path d="M360.40,488.00 v-2.2" stroke="#a02c4c" stroke-width="0.8"/>
<path d="M380.50,503.80 v-2.2" stroke="#a02c4c" stroke-width="0.8"/>
<path d="M464.10,551.50 v-2.2" stroke="#a02c4c" stroke-width="0.8"/>
<path d="M475.00,551.50 v-2.2" stroke="#a02c4c" stroke-width="0.8"/>
<path d="M476.70,551.50 v-2.2" stroke="#a02c4c" stroke-width="0.8"/>
</svg>
</body></html>
